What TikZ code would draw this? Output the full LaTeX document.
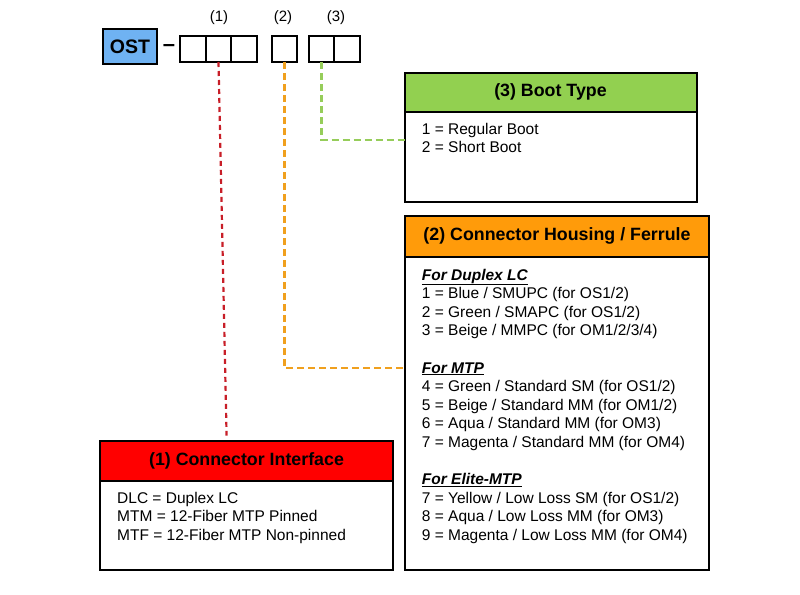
\documentclass[tikz,border=0pt]{standalone}
\usepackage{fontspec}
\setmainfont{Liberation Sans}
\usepackage{tikz}
\usetikzlibrary{positioning}

\definecolor{ostblue}{RGB}{111,178,242}
\definecolor{bootgreen}{RGB}{146,208,80}
\definecolor{houseorange}{RGB}{255,155,10}
\definecolor{connred}{RGB}{255,0,0}
\definecolor{connline}{RGB}{200,30,40}
\definecolor{houseline}{RGB}{240,160,30}
\definecolor{bootline}{RGB}{150,205,90}

\tikzset{
    cell/.style={draw, line width=1.8pt, minimum width=25.5pt, minimum height=26pt, inner sep=0pt, outer sep=0pt},
    head/.style={draw, line width=2pt, inner sep=0pt, outer sep=0pt, font=\bfseries\fontsize{17.8}{20}\selectfont},
    body/.style={draw, line width=2pt, inner sep=0pt, outer sep=0pt, fill=white},
    item/.style={anchor=base west, inner sep=0pt, font=\fontsize{15.5}{18}\selectfont},
    lead/.style={line width=2.2pt, dash pattern=on 7pt off 4pt}
}
\newcommand{\heading}[1]{\underline{\textbf{\textit{#1}}}}

\begin{document}
\begin{tikzpicture}[x=1pt, y=-1pt]
    \useasboundingbox (0,0) rectangle (800,594);

    \node[draw, line width=2pt, fill=ostblue, minimum width=54pt, minimum height=35pt, inner sep=0pt, font=\bfseries\fontsize{19.5}{22}\selectfont] (ost) at (130,46.5) {OST};
    \node[inner sep=0pt, font=\bfseries\fontsize{22}{24}\selectfont] (dash) at (169,48) {--};

    \node[cell] (c1a) at (193,49) {};
    \node[cell, right=0pt of c1a] (c1b) {};
    \node[cell, right=0pt of c1b] (c1c) {};
    \node[cell] (c2) at (284.5,49) {};
    \node[cell] (c3a) at (321.5,49) {};
    \node[cell, right=0pt of c3a] (c3b) {};

    \node[font=\fontsize{15}{17}\selectfont] (l1) at (219,18) {(1)};
    \node[font=\fontsize{15}{17}\selectfont] (l2) at (283,18) {(2)};
    \node[font=\fontsize{15}{17}\selectfont] (l3) at (336,18) {(3)};

    \node[head, fill=bootgreen, minimum width=292pt, minimum height=39pt] (boothead) at (550.5,92.2) {(3) Boot Type};
    \node[body, minimum width=292pt, minimum height=90pt, below=0pt of boothead] (bootbody) {};

    \node[head, fill=houseorange, minimum width=304pt, minimum height=40.7pt] (househead) at (557,236.3) {(2) Connector Housing / Ferrule};
    \node[body, minimum width=304pt, minimum height=313.3pt, below=0pt of househead] (housebody) {};

    \node[head, fill=connred, minimum width=293pt, minimum height=40.3pt] (connhead) at (246.5,460.8) {(1) Connector Interface};
    \node[body, minimum width=293pt, minimum height=89pt, below=0pt of connhead] (connbody) {};

    \foreach \txt [count=\i from 0] in {1 = Regular Boot, 2 = Short Boot}
        \node[item] (boot\i) at (421.7,134+18.6*\i) {\txt};

    \foreach \txt [count=\i from 0] in {\heading{For Duplex LC}, 1 = Blue / SMUPC (for OS1/2), 2 = Green / SMAPC (for OS1/2), 3 = Beige / MMPC (for OM1/2/3/4)}
        \node[item] (lc\i) at (421.7,280+18.6*\i) {\txt};
    \foreach \txt [count=\i from 0] in {\heading{For MTP}, 4 = Green / Standard SM (for OS1/2), 5 = Beige / Standard MM (for OM1/2), 6 = Aqua / Standard MM (for OM3), 7 = Magenta / Standard MM (for OM4)}
        \node[item] (mtp\i) at (421.7,373+18.6*\i) {\txt};
    \foreach \txt [count=\i from 0] in {\heading{For Elite-MTP}, 7 = Yellow / Low Loss SM (for OS1/2), 8 = Aqua / Low Loss MM (for OM3), 9 = Magenta / Low Loss MM (for OM4)}
        \node[item] (elite\i) at (421.7,484.6+18.6*\i) {\txt};

    \foreach \txt [count=\i from 0] in {DLC = Duplex LC, MTM = 12-Fiber MTP Pinned, MTF = 12-Fiber MTP Non-pinned}
        \node[item] (conn\i) at (117,503.3+18.6*\i) {\txt};

    \draw[lead, connline, dash pattern=on 5pt off 4pt, shorten >=5pt] (c1b.south) -- ([xshift=-19.8pt]connhead.north);
    \draw[lead, houseline] (c2.south) |- ([yshift=45pt]housebody.west);
    \draw[lead, bootline] (c3a.south) |- ([yshift=16.7pt]bootbody.west);
\end{tikzpicture}
\end{document}
